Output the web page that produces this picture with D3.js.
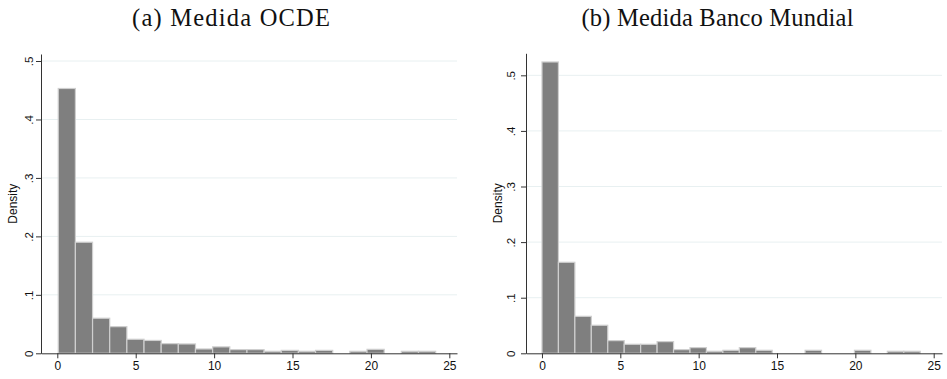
<!DOCTYPE html>
<html>
<head>
<meta charset="utf-8">
<script src="https://cdn.jsdelivr.net/npm/d3@7"></script>
<style>
  html, body { margin: 0; padding: 0; background: #fff; }
  svg { display: block; }
</style>
</head>
<body>
<svg id="chart" width="947" height="379"></svg>
<script>
// ---- data ----
const titles = ["(a) Medida OCDE", "(b) Medida Banco Mundial"];
const yTicks = [0, 0.1, 0.2, 0.3, 0.4, 0.5];
const yTickLabels = ["0", ".1", ".2", ".3", ".4", ".5"];
const xTicks = [0, 5, 10, 15, 20, 25];
const yLabel = "Density";

// Panel (a): 22 bins starting at 0.06, width ~1.094
const binStartA = 0.06;
const binWidthA = 1.094;
const densityA = [0.453, 0.190, 0.060, 0.0456, 0.024, 0.022, 0.0165, 0.0160,
                  0.0074, 0.011, 0.0063, 0.0063, 0.0034, 0.005, 0.0034, 0.005,
                  0, 0.0034, 0.0068, 0, 0.0034, 0.0034];

// Panel (b): 23 bins starting at 0, width ~1.0496
const binStartB = 0.0;
const binWidthB = 1.0496;
const densityB = [0.524, 0.1637, 0.0665, 0.0504, 0.0228, 0.0162, 0.0162, 0.021,
                  0.0066, 0.0102, 0.0036, 0.0054, 0.0102, 0.0054, 0, 0,
                  0.0054, 0, 0, 0.0054, 0, 0.0036, 0.0036];

// ---- layout ----
const panels = [
  { title: titles[0], start: binStartA, width: binWidthA, dens: densityA,
    xDom: [-1.04, 25.49], xRange: [41, 457], yDom: [0, 0.512], yRange: [353.3, 54],
    titleX: 231, titleW: 198, tickLabX: 33, yLabX: 16.5 },
  { title: titles[1], start: binStartB, width: binWidthB, dens: densityB,
    xDom: [-1.02, 25.53], xRange: [526, 942], yDom: [0, 0.5396], yRange: [353.3, 53.3],
    titleX: 717.5, titleW: 272, tickLabX: 514.5, yLabX: 501.5 }
];

const svg = d3.select("#chart");

panels.forEach(p => {
  const x = d3.scaleLinear().domain(p.xDom).range(p.xRange);
  const y = d3.scaleLinear().domain(p.yDom).range(p.yRange);
  const g = svg.append("g");

  // title
  g.append("text")
    .attr("x", p.titleX).attr("y", 26)
    .attr("text-anchor", "middle")
    .attr("font-family", "Liberation Serif, serif")
    .attr("font-size", 24.5)
    .attr("textLength", p.titleW)
    .attr("lengthAdjust", "spacing")
    .attr("fill", "#111")
    .text(p.title);

  // gridlines
  g.selectAll("line.grid").data(yTicks.filter(t => t > 0)).enter()
    .append("line")
    .attr("x1", p.xRange[0] + 1).attr("x2", p.xRange[1])
    .attr("y1", d => y(d)).attr("y2", d => y(d))
    .attr("stroke", "#e8f0f1").attr("stroke-width", 1);

  // bars
  const bins = p.dens.map((d, i) => ({ x0: p.start + i * p.width, x1: p.start + (i + 1) * p.width, d }));
  g.selectAll("rect.bar").data(bins.filter(b => b.d > 0)).enter()
    .append("rect")
    .attr("x", b => x(b.x0))
    .attr("width", b => x(b.x1) - x(b.x0))
    .attr("y", b => y(b.d))
    .attr("height", b => y(0) - y(b.d))
    .attr("fill", "#7f7f7f")
    .attr("stroke", "#cfcfcf")
    .attr("stroke-width", 1.2);

  // x axis
  const xAxis = d3.axisBottom(x).tickValues(xTicks).tickSize(5).tickSizeOuter(0).tickFormat(d3.format("d"));
  const gx = g.append("g").attr("transform", `translate(0,${p.yRange[0]})`).call(xAxis);
  gx.select(".domain").attr("stroke", "#333");
  gx.selectAll(".tick line").attr("stroke", "#333");
  gx.selectAll(".tick text")
    .attr("font-family", "Liberation Sans, Arial, sans-serif")
    .attr("font-size", 12).attr("fill", "#111").attr("dy", null).attr("y", 16.5);

  // y axis
  const yAxis = d3.axisLeft(y).tickValues(yTicks).tickSize(5).tickSizeOuter(0)
    .tickFormat((d, i) => yTickLabels[i]);
  const gy = g.append("g").attr("transform", `translate(${p.xRange[0]},0)`).call(yAxis);
  gy.select(".domain").attr("stroke", "#333");
  gy.selectAll(".tick line").attr("stroke", "#333");
  gy.selectAll(".tick text").remove();
  gy.selectAll(".tick").append("text")
    .attr("transform", `translate(${p.tickLabX - p.xRange[0]},0) rotate(-90)`)
    .attr("text-anchor", "middle")
    .attr("font-family", "Liberation Sans, Arial, sans-serif")
    .attr("font-size", 11.5).attr("fill", "#111")
    .text((d, i) => yTickLabels[i]);

  // y label
  g.append("text")
    .attr("transform", `translate(${p.yLabX},${(p.yRange[0] + p.yRange[1]) / 2}) rotate(-90)`)
    .attr("text-anchor", "middle")
    .attr("font-family", "Liberation Sans, Arial, sans-serif")
    .attr("font-size", 12).attr("fill", "#111")
    .text(yLabel);
});
</script>
</body>
</html>
